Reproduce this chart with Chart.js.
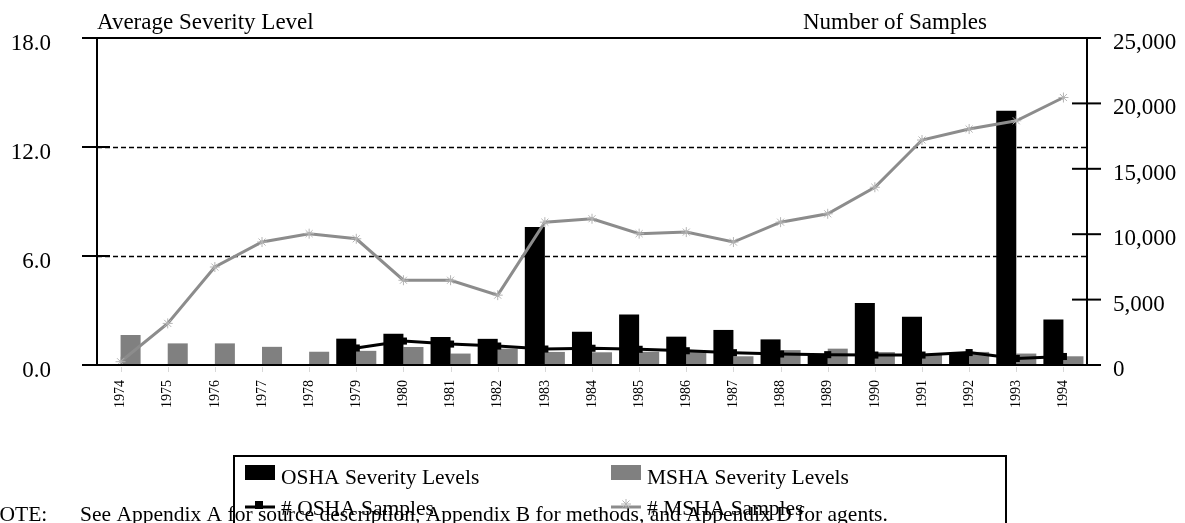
<!DOCTYPE html>
<html><head><meta charset="utf-8">
<script src="https://cdn.jsdelivr.net/npm/chart.js@4.4.0/dist/chart.umd.min.js"></script>
<style>html,body{margin:0;padding:0;background:#fff;overflow:hidden}canvas{display:block}</style>
</head><body>
<canvas id="c" width="1185" height="523"></canvas>
<script>
// ---- data ----
const years = ['1974','1975','1976','1977','1978','1979','1980','1981','1982','1983','1984','1985','1986','1987','1988','1989','1990','1991','1992','1993','1994'];
const oshaSeverity = [null,null,null,null,null,1.45,1.72,1.54,1.44,7.6,1.83,2.78,1.56,1.93,1.41,0.59,3.41,2.65,0.64,14.0,2.5];
const mshaSeverity = [1.65,1.19,1.19,1.0,0.73,0.78,0.99,0.63,0.9,0.72,0.7,0.73,0.8,0.48,0.82,0.9,0.71,0.6,0.72,0.63,0.48];
const oshaSamples = [null,null,null,null,null,1300,1830,1600,1450,1220,1280,1200,1090,940,840,790,760,760,950,500,650];
const mshaSamples = [250,3180,7490,9400,10040,9650,6480,6480,5340,10920,11180,10040,10160,9400,10920,11560,13590,17200,18040,18670,20450];
const leftTicks = [0,6,12,18];
const rightTicks = [0,5000,10000,15000,20000,25000];
const leftTitle = 'Average Severity Level';
const rightTitle = 'Number of Samples';
const seriesNames = ['OSHA Severity Levels','MSHA Severity Levels','# OSHA Samples','# MSHA Samples'];
const noteLabel = 'NOTE:';
const noteText = 'See Appendix A for source description, Appendix B for methods, and Appendix D for agents.';

const SERIF = '"Liberation Serif", "Times New Roman", serif';
const GRAY_BAR = '#808080';
const GRAY_LINE = '#8c8c8c';

const framePlugin = {
  id: 'frame',
  beforeDatasetsDraw(chart) {
    const {ctx, chartArea: a, scales: {y}} = chart;
    ctx.save();
    ctx.strokeStyle = '#000'; ctx.lineWidth = 1.6; ctx.setLineDash([5,3]);
    leftTicks.filter(v => v > y.min && v < y.max).forEach(v => {
      const py = Math.round(y.getPixelForValue(v)) + 0.5;
      ctx.beginPath(); ctx.moveTo(a.left, py); ctx.lineTo(a.right, py); ctx.stroke();
    });
    ctx.restore();
  },
  afterDatasetsDraw(chart) {
    const {ctx, chartArea: a, scales: {x, y, y1}} = chart;
    ctx.save();
    ctx.strokeStyle = '#d8d8d8'; ctx.lineWidth = 1;
    x.ticks.forEach((t, i) => {
      const px = Math.round(x.getPixelForTick(i)) + 0.5;
      ctx.beginPath(); ctx.moveTo(px, a.bottom + 2); ctx.lineTo(px, a.bottom + 7); ctx.stroke();
    });
    ctx.strokeStyle = '#000'; ctx.lineWidth = 2;
    ctx.beginPath(); ctx.moveTo(a.left, a.top); ctx.lineTo(a.left, a.bottom); ctx.stroke();
    ctx.beginPath(); ctx.moveTo(a.right, a.top); ctx.lineTo(a.right, a.bottom); ctx.stroke();
    [a.top, a.bottom].forEach(py => {
      ctx.beginPath(); ctx.moveTo(a.left - 15, py); ctx.lineTo(a.right + 14, py); ctx.stroke();
    });
    leftTicks.forEach(v => {
      const py = y.getPixelForValue(v);
      ctx.beginPath(); ctx.moveTo(a.left - 15, py); ctx.lineTo(a.left + 13, py); ctx.stroke();
    });
    rightTicks.forEach(v => {
      const py = y1.getPixelForValue(v);
      ctx.beginPath(); ctx.moveTo(a.right - 15, py); ctx.lineTo(a.right + 14, py); ctx.stroke();
    });
    ctx.restore();
  },
  afterDraw(chart) {
    const {ctx, chartArea: a} = chart;
    ctx.save();
    ctx.fillStyle = '#000';
    ctx.textBaseline = 'alphabetic';
    ctx.font = '23px ' + SERIF;
    ctx.fillText(leftTitle, a.left, 29);
    ctx.fillText(rightTitle, 803, 29);

    ctx.font = '21.5px ' + SERIF;
    ctx.fillText(noteLabel, -16, 521);
    ctx.fillText(noteText, 80, 521);

    ctx.lineWidth = 2; ctx.strokeStyle = '#000';
    ctx.strokeRect(234, 456, 772, 120);
    const ds = chart.data.datasets;
    const slots = [[245, 465], [611, 465], [245, 497], [611, 497]];
    ds.forEach((d, i) => {
      const [sx, sy] = slots[i];
      if (d.type === 'bar') {
        ctx.fillStyle = d.backgroundColor;
        ctx.fillRect(sx, sy, 30, 15);
      } else {
        ctx.strokeStyle = d.borderColor; ctx.lineWidth = 3;
        ctx.beginPath(); ctx.moveTo(sx, sy + 10); ctx.lineTo(sx + 30, sy + 10); ctx.stroke();
        if (d.pointStyle === 'rect') { ctx.fillStyle = d.pointBackgroundColor; ctx.fillRect(sx + 10, sy + 4, 8, 8); }
        else { ctx.strokeStyle = d.pointBorderColor; ctx.lineWidth = 1; Chart.helpers.drawPoint(ctx, {pointStyle: d.pointStyle, radius: 5, borderWidth: 1}, sx + 15, sy + 7); }
      }
      ctx.fillStyle = '#000';
      ctx.font = '21.5px ' + SERIF;
      ctx.fillText(d.label, sx + 36, sy + (d.type === 'bar' ? 19 : 18));
    });
    ctx.restore();
  }
};

function noPad(s) { s.paddingTop = 0; s.paddingBottom = 0; s.paddingLeft = 0; s.paddingRight = 0; }

new Chart(document.getElementById('c'), {
  data: {
    labels: years,
    datasets: [
      { type: 'bar', label: seriesNames[0], data: oshaSeverity, backgroundColor: '#000', yAxisID: 'y', order: 2,
        categoryPercentage: 0.85, barPercentage: 1.0 },
      { type: 'bar', label: seriesNames[1], data: mshaSeverity, backgroundColor: GRAY_BAR, yAxisID: 'y', order: 2,
        categoryPercentage: 0.85, barPercentage: 1.0 },
      { type: 'line', label: seriesNames[2], data: oshaSamples, borderColor: '#000', borderWidth: 3, yAxisID: 'y1', order: 1,
        pointStyle: 'rect', pointRadius: 5, pointBackgroundColor: '#000', pointBorderColor: '#000', pointBorderWidth: 0, tension: 0 },
      { type: 'line', label: seriesNames[3], data: mshaSamples, borderColor: GRAY_LINE, borderWidth: 3, yAxisID: 'y1', order: 0,
        pointStyle: 'star', pointRadius: 5, pointBackgroundColor: 'rgba(0,0,0,0)', pointBorderColor: '#b4b4b4', pointBorderWidth: 1, tension: 0 }
    ]
  },
  options: {
    responsive: false,
    animation: false,
    events: [],
    layout: { padding: { top: 38, bottom: 108, left: 0, right: 0 } },
    plugins: { legend: { display: false }, tooltip: { enabled: false } },
    scales: {
      x: {
        type: 'category', offset: true,
        grid: { display: false, drawTicks: false }, border: { display: false },
        ticks: { autoSkip: false, minRotation: 90, maxRotation: 90, padding: 15, color: '#000',
                 font: { family: SERIF, size: 14 } },
        afterFit(s) { s.height = 50; noPad(s); }
      },
      y: {
        position: 'left', min: 0, max: 18,
        afterBuildTicks(s) { s.ticks = leftTicks.map(v => ({ value: v })); },
        grid: { display: false, drawTicks: false }, border: { display: false },
        ticks: { padding: 46, labelOffset: 6, color: '#000', font: { family: SERIF, size: 23 },
                 callback: v => Number(v).toFixed(1) },
        afterFit(s) { s.width = 97; noPad(s); }
      },
      y1: {
        position: 'right', min: 0, max: 25000,
        afterBuildTicks(s) { s.ticks = rightTicks.map(v => ({ value: v })); },
        grid: { display: false, drawTicks: false }, border: { display: false },
        ticks: { padding: 26, labelOffset: 5, color: '#000', font: { family: SERIF, size: 23 },
                 callback: v => Number(v).toLocaleString('en-US') },
        afterFit(s) { s.width = 98; noPad(s); }
      }
    }
  },
  plugins: [framePlugin]
});
</script>
</body></html>
